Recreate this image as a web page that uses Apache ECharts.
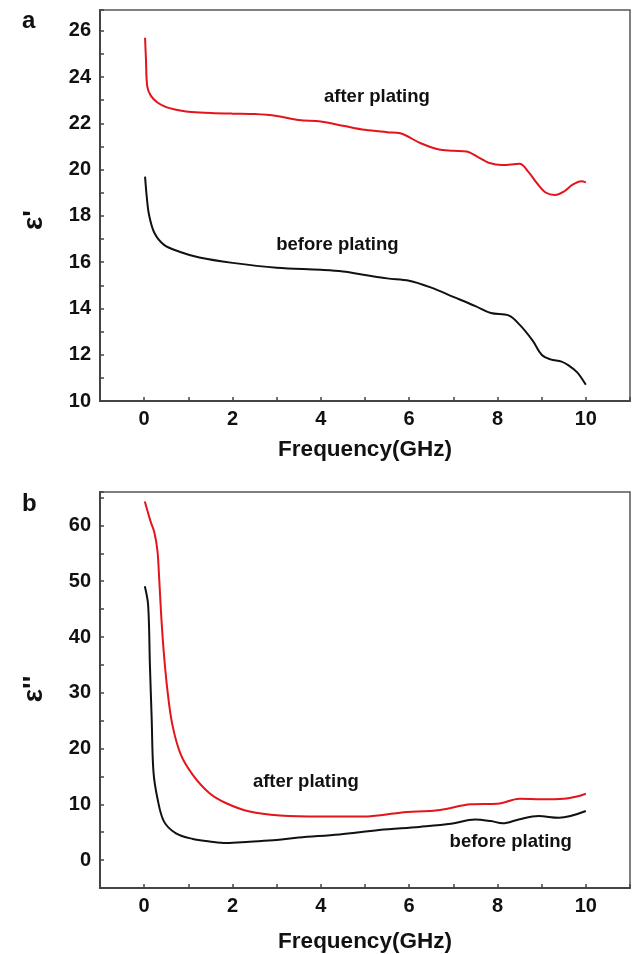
<!DOCTYPE html>
<html lang="en">
<head>
    <meta charset="UTF-8">
    <title>permittivity before / after plating</title>
    <script type="text/javascript" src="https://cdn.jsdelivr.net/npm/echarts@6/dist/echarts.min.js"></script>
    <style>
        html, body { margin: 0; padding: 0; background: #fff; }
    </style>
</head>
<body>
<div id="container" style="width: 633px; height: 954px"></div>
<script type="text/javascript">
    // panel a: real part (eps')
    var freqA_after = [0.02, 0.04, 0.07, 0.15, 0.3, 0.5, 0.7, 1.0, 1.5, 2.0, 2.5, 3.0, 3.5, 4.0, 4.5, 5.0, 5.5, 5.8, 6.25, 6.65, 7.0, 7.3, 7.6, 7.8, 8.1, 8.5, 8.7, 8.9, 9.1, 9.3, 9.5, 9.7, 9.9, 10.0];
    var epsA_after  = [25.7, 24.8, 23.6, 23.2, 22.9, 22.7, 22.6, 22.5, 22.45, 22.42, 22.4, 22.32, 22.15, 22.08, 21.9, 21.72, 21.62, 21.57, 21.15, 20.88, 20.82, 20.78, 20.5, 20.3, 20.2, 20.25, 19.9, 19.4, 19.0, 18.9, 19.05, 19.35, 19.5, 19.45];
    var freqA_before = [0.02, 0.06, 0.11, 0.23, 0.45, 0.8, 1.25, 2.0, 3.0, 4.0, 4.5, 5.0, 5.5, 6.0, 6.5, 7.0, 7.5, 7.85, 8.25, 8.5, 8.8, 9.0, 9.2, 9.45, 9.6, 9.8, 10.0];
    var epsA_before  = [19.7, 18.8, 18.05, 17.27, 16.75, 16.45, 16.2, 15.97, 15.76, 15.67, 15.6, 15.45, 15.3, 15.2, 14.9, 14.5, 14.1, 13.8, 13.7, 13.3, 12.6, 12.0, 11.8, 11.7, 11.55, 11.25, 10.7];

    // panel b: imaginary part (eps'')
    var freqB_after = [0.015, 0.15, 0.23, 0.3, 0.34, 0.39, 0.45, 0.53, 0.64, 0.83, 1.1, 1.48, 1.86, 2.39, 3.07, 4.0, 4.9, 5.4, 5.8, 6.7, 7.4, 8.0, 8.5, 9.0, 9.5, 9.8, 10.0];
    var epsB_after  = [64.3, 60.6, 58.8, 55.5, 50.5, 43.3, 36.7, 30.2, 24.2, 18.9, 15.3, 12.0, 10.2, 8.7, 8.0, 7.8, 7.8, 8.1, 8.5, 9.0, 10.0, 10.1, 11.0, 10.9, 11.0, 11.4, 11.9];
    var freqB_before = [0.015, 0.09, 0.13, 0.17, 0.21, 0.3, 0.45, 0.72, 1.1, 1.48, 1.86, 2.39, 3.0, 3.5, 4.42, 5.32, 6.23, 6.95, 7.49, 7.85, 8.12, 8.48, 8.93, 9.39, 10.0];
    var epsB_before  = [49.1, 45.7, 35, 25.4, 15.9, 11.1, 6.9, 4.8, 3.8, 3.35, 3.05, 3.3, 3.6, 4.05, 4.6, 5.4, 5.95, 6.5, 7.3, 7.0, 6.6, 7.3, 7.9, 7.6, 8.8];

    var xTicks = [0, 2, 4, 6, 8, 10];
    var yTicksA = [10, 12, 14, 16, 18, 20, 22, 24, 26];
    var yTicksB = [0, 10, 20, 30, 40, 50, 60];

    function zip(xs, ys) {
        var out = [];
        for (var i = 0; i < xs.length; i++) out.push([xs[i], ys[i]]);
        return out;
    }

    var FONT = '"Liberation Sans", Arial, sans-serif';
    var RED = '#e3141b';
    var BLACK = '#111111';

    function tagLabel(list) {
        return function (v) { return list.indexOf(v) >= 0 ? String(v) : ''; };
    }

    function xAxisFor(idx, gap) {
        return {
            type: 'value', gridIndex: idx, min: -1, max: 11, interval: 1,
            name: 'Frequency(GHz)', nameLocation: 'middle', nameGap: gap,
            nameTextStyle: { fontFamily: FONT, fontWeight: 'bold', fontSize: 22.5, color: '#111' },
            axisLine: { onZero: false, lineStyle: { color: '#444', width: 2 } },
            axisTick: { inside: true, length: 4, lineStyle: { color: '#444', width: 1.5 } },
            axisLabel: { formatter: tagLabel(xTicks), fontFamily: FONT, fontWeight: 'bold', fontSize: 20, color: '#111', margin: 8 },
            splitLine: { show: false }
        };
    }

    function yAxisFor(idx, min, max, interval, ticks) {
        return {
            type: 'value', gridIndex: idx, min: min, max: max, interval: interval,
            axisLine: { onZero: false, lineStyle: { color: '#444', width: 2 } },
            axisTick: { inside: true, length: 4, lineStyle: { color: '#444', width: 1.5 } },
            axisLabel: { formatter: tagLabel(ticks), fontFamily: FONT, fontWeight: 'bold', fontSize: 20, color: '#111', margin: 9 },
            splitLine: { show: false }
        };
    }

    function note(text, x, y) {
        return {
            silent: true, symbol: 'circle', symbolSize: 0,
            label: { show: true, position: 'inside', formatter: text, fontFamily: FONT, fontWeight: 'bold', fontSize: 18.5, color: '#111' },
            data: [{ coord: [x, y] }]
        };
    }

    function line(name, idx, data, color, mark) {
        return {
            name: name, type: 'line', xAxisIndex: idx, yAxisIndex: idx,
            data: data, showSymbol: false, smooth: 0.35,
            lineStyle: { color: color, width: 2 },
            markPoint: mark
        };
    }

    var dom = document.getElementById('container');
    var myChart = echarts.init(dom, null, { renderer: 'canvas' });

    var option = {
        animation: false,
        backgroundColor: '#fff',
        grid: [
            { left: 100, top: 10, width: 530, height: 391, show: true, borderColor: '#555', borderWidth: 1.5, backgroundColor: 'transparent' },
            { left: 100, top: 492, width: 530, height: 399, show: true, borderColor: '#555', borderWidth: 1.5, backgroundColor: 'transparent' }
        ],
        xAxis: [xAxisFor(0, 37), xAxisFor(1, 42)],
        yAxis: [
            yAxisFor(0, 10, 26.9, 1, yTicksA),
            yAxisFor(1, -5, 66, 5, yTicksB)
        ],
        graphic: [
            { type: 'text', left: 22, top: 9, style: { text: 'a', font: 'bold 24px ' + FONT, fill: '#111' } },
            { type: 'text', left: 22, top: 492, style: { text: 'b', font: 'bold 24px ' + FONT, fill: '#111' } },
            { type: 'text', x: 34, y: 220, rotation: Math.PI / 2,
              style: { text: "ε'", font: 'bold 28px ' + FONT, fill: '#111', textAlign: 'center', textVerticalAlign: 'middle' } },
            { type: 'text', x: 34, y: 689, rotation: Math.PI / 2,
              style: { text: "ε''", font: 'bold 28px ' + FONT, fill: '#111', textAlign: 'center', textVerticalAlign: 'middle' } }
        ],
        series: [
            line('after plating', 0, zip(freqA_after, epsA_after), RED, note('after plating', 5.27, 23.14)),
            line('before plating', 0, zip(freqA_before, epsA_before), BLACK, note('before plating', 4.375, 16.75)),
            line('after plating', 1, zip(freqB_after, epsB_after), RED, note('after plating', 3.66, 14.0)),
            line('before plating', 1, zip(freqB_before, epsB_before), BLACK, note('before plating', 8.3, 3.3))
        ]
    };

    if (option && typeof option === 'object') {
        myChart.setOption(option, true);
    }
</script>
</body>
</html>
